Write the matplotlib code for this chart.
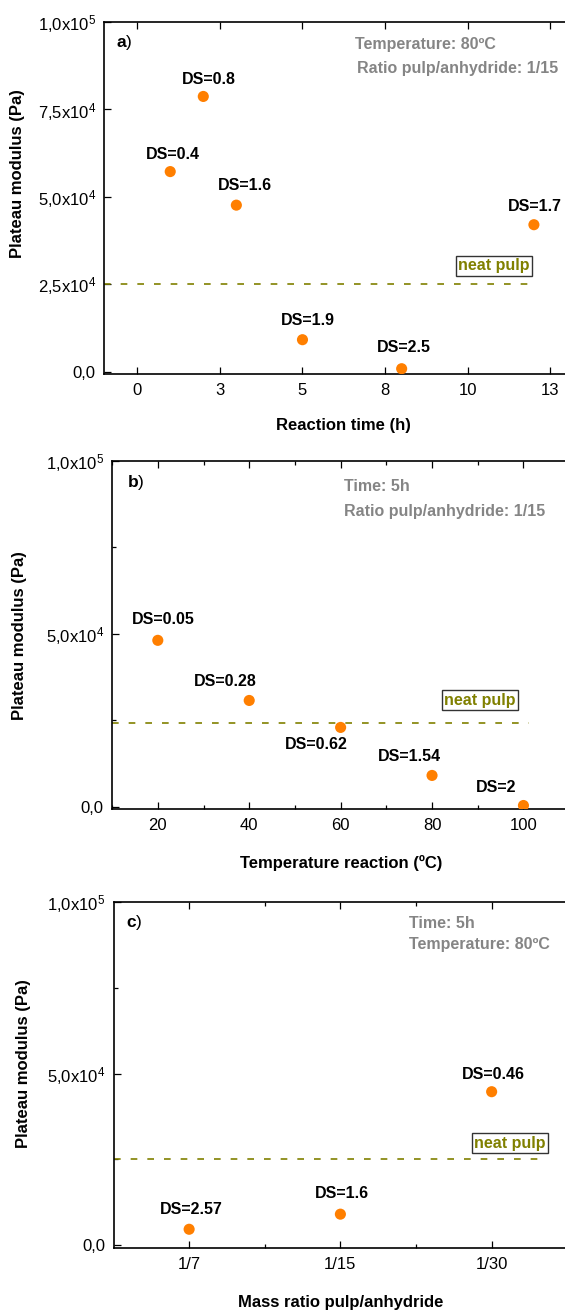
import matplotlib
matplotlib.use("Agg")
import matplotlib.pyplot as plt
from matplotlib.ticker import FixedLocator, FixedFormatter

plt.rcParams['font.family'] = ['Liberation Sans', 'DejaVu Sans']
plt.rcParams['mathtext.fontset'] = 'custom'
plt.rcParams['mathtext.rm'] = 'Liberation Sans'
plt.rcParams['mathtext.it'] = 'Liberation Sans:italic'
plt.rcParams['mathtext.bf'] = 'Liberation Sans:bold'

# ---------------- data ----------------
time_h = [1, 2, 3, 5, 8, 12]
modulus_a = [57200, 78700, 47600, 9100, 800, 42000]
ds_a = ['0.4', '0.8', '1.6', '1.9', '2.5', '1.7']

temp_c = [20, 40, 60, 80, 100]
modulus_b = [48100, 30700, 22900, 9000, 300]
ds_b = ['0.05', '0.28', '0.62', '1.54', '2']

ratio_pos = [1, 2, 3]
ratio_labels = ['1/7', '1/15', '1/30']
modulus_c = [4600, 9000, 44700]
ds_c = ['2.57', '1.6', '0.46']

neat_pulp = [25000, 24200, 25000]

a_xticks = [0, 2.5, 5, 7.5, 10, 12.5]
a_xticklabels = ['0', '3', '5', '8', '10', '13']
a_yticks = [0, 25000, 50000, 75000, 100000]
a_yticklabels = ['0,0', r'2,5x10$^{4}$', r'5,0x10$^{4}$', r'7,5x10$^{4}$', r'1,0x10$^{5}$']
bc_yticks = [0, 50000, 100000]
bc_yticklabels = ['0,0', r'5,0x10$^{4}$', r'1,0x10$^{5}$']
bc_yminor = [25000, 75000]
b_xticks = [20, 40, 60, 80, 100]
b_xminor = [10, 30, 50, 70, 90, 110]
c_xminor = [1.5, 2.5]

cond_a = ['Temperature: 80ºC', 'Ratio pulp/anhydride: 1/15']
cond_b = ['Time: 5h', 'Ratio pulp/anhydride: 1/15']
cond_c = ['Time: 5h', 'Temperature: 80ºC']

# ---------------- style ----------------
W, H = 565, 1313
fig = plt.figure(figsize=(W / 100, H / 100), dpi=100)

ORANGE = '#FF7F00'
OLIVE = '#808000'
GRAY = '#858585'


def make_axes(left, right, top, bottom):
    return fig.add_axes([left / W, (H - bottom) / H, (right - left) / W, (bottom - top) / H])


def style(ax):
    for s in ax.spines.values():
        s.set_linewidth(1.2)
    ax.tick_params(which='both', direction='in', top=True, right=True,
                   labelsize=12, pad=6, width=0.9)
    ax.tick_params(which='major', length=5)
    ax.tick_params(which='minor', length=2.8)


axA = make_axes(104.1, 583.5, 22, 374.3)
axB = make_axes(112.1, 592.0, 461, 809.3)
axC = make_axes(113.5, 582.4, 902, 1248.3)

# ---- panel a ----
ax = axA
style(ax)
ax.set_xlim(-1, 13.5)
ax.set_ylim(-800, 100000)
ax.scatter(time_h, modulus_a, s=64, color=ORANGE, edgecolors='none', zorder=3)
ax.plot([-1, 12.1], [neat_pulp[0]] * 2, color=OLIVE, lw=1.2, ls=(0, (4, 6)), zorder=2)
offs_a = [(2, 12), (4, 12), (6.5, 14.4), (3.6, 13.5), (1.7, 15), (0.4, 13)]
for x, y, d, o in zip(time_h, modulus_a, ds_a, offs_a):
    ax.annotate('DS=' + d, (x, y), xytext=o, textcoords='offset points',
                ha='center', va='center', fontsize=11.5, fontweight='bold')
ax.xaxis.set_major_locator(FixedLocator(a_xticks))
ax.xaxis.set_major_formatter(FixedFormatter(a_xticklabels))
ax.yaxis.set_major_locator(FixedLocator(a_yticks))
ax.yaxis.set_major_formatter(FixedFormatter(a_yticklabels))
ax.text(10.8, 30300, 'neat pulp', ha='center', va='center', color=OLIVE, fontsize=11.5,
        fontweight='bold', bbox=dict(boxstyle='square,pad=0.15', fc='white', ec='#333333', lw=1))
ax.text(0.523, 0.9375, cond_a[0], transform=ax.transAxes, color=GRAY, fontsize=11.5,
        fontweight='bold', va='center', ha='left')
ax.text(0.5285, 0.8666, cond_a[1], transform=ax.transAxes, color=GRAY, fontsize=11.5,
        fontweight='bold', va='center', ha='left')
ax.text(0.0248, 0.943, r'$\mathbf{a}$)', transform=ax.transAxes, fontsize=12.5, va='center', ha='left')
ax.set_xlabel('Reaction time (h)', fontsize=12, fontweight='bold')
ax.xaxis.set_label_coords(0.5, -0.144)
ax.xaxis.label.set_va('center')
ax.set_ylabel('Plateau modulus (Pa)', fontsize=12, fontweight='bold')
ax.yaxis.set_label_coords(-0.181, 0.569)
ax.yaxis.label.set_va('center')

# ---- panel b ----
ax = axB
style(ax)
ax.set_xlim(10, 115)
ax.set_ylim(-800, 100000)
ax.scatter(temp_c, modulus_b, s=64, color=ORANGE, edgecolors='none', zorder=3)
ax.plot([10, 101.2], [neat_pulp[1]] * 2, color=OLIVE, lw=1.2, ls=(0, (4, 6)), zorder=2)
offs_b = [(4.1, 15.1), (-17.1, 13.5), (-17.3, -12.5), (-16.6, 13.5), (-19.4, 13.2)]
for x, y, d, o in zip(temp_c, modulus_b, ds_b, offs_b):
    ax.annotate('DS=' + d, (x, y), xytext=o, textcoords='offset points',
                ha='center', va='center', fontsize=11.5, fontweight='bold')
ax.xaxis.set_major_locator(FixedLocator(b_xticks))
ax.xaxis.set_minor_locator(FixedLocator(b_xminor))
ax.yaxis.set_major_locator(FixedLocator(bc_yticks))
ax.yaxis.set_major_formatter(FixedFormatter(bc_yticklabels))
ax.yaxis.set_minor_locator(FixedLocator(bc_yminor))
ax.text(90.5, 30800, 'neat pulp', ha='center', va='center', color=OLIVE, fontsize=11.5,
        fontweight='bold', bbox=dict(boxstyle='square,pad=0.15', fc='white', ec='#333333', lw=1))
ax.text(0.5074 * 457.2 / 479.9, 0.928, cond_b[0], transform=ax.transAxes, color=GRAY, fontsize=11.5,
        fontweight='bold', va='center', ha='left')
ax.text(0.5074 * 457.2 / 479.9, 0.8536, cond_b[1], transform=ax.transAxes, color=GRAY, fontsize=11.5,
        fontweight='bold', va='center', ha='left')
ax.text(0.0315 * 457.2 / 479.9, 0.937, r'$\mathbf{b}$)', transform=ax.transAxes, fontsize=12.5,
        va='center', ha='left')
ax.set_xlabel('Temperature reaction (ºC)', fontsize=12, fontweight='bold')
ax.xaxis.set_label_coords(0.5 * 457.2 / 479.9, -0.153)
ax.xaxis.label.set_va('center')
ax.set_ylabel('Plateau modulus (Pa)', fontsize=12, fontweight='bold')
ax.yaxis.set_label_coords(-0.202 * 457.2 / 479.9, 0.5)
ax.yaxis.label.set_va('center')

# ---- panel c ----
ax = axC
style(ax)
ax.set_xlim(0.5, 3.6)
ax.set_ylim(-950, 100000)
ax.scatter(ratio_pos, modulus_c, s=64, color=ORANGE, edgecolors='none', zorder=3)
ax.plot([0.5, 3.31], [neat_pulp[2]] * 2, color=OLIVE, lw=1.2, ls=(0, (4, 6)), zorder=2)
offs_c = [(1.8, 13.9), (1.4, 15.1), (1.1, 12.7)]
for x, y, d, o in zip(ratio_pos, modulus_c, ds_c, offs_c):
    ax.annotate('DS=' + d, (x, y), xytext=o, textcoords='offset points',
                ha='center', va='center', fontsize=11.5, fontweight='bold')
ax.xaxis.set_major_locator(FixedLocator(ratio_pos))
ax.xaxis.set_major_formatter(FixedFormatter(ratio_labels))
ax.xaxis.set_minor_locator(FixedLocator(c_xminor))
ax.yaxis.set_major_locator(FixedLocator(bc_yticks))
ax.yaxis.set_major_formatter(FixedFormatter(bc_yticklabels))
ax.yaxis.set_minor_locator(FixedLocator(bc_yminor))
ax.text(3.12, 29650, 'neat pulp', ha='center', va='center', color=OLIVE, fontsize=11.5,
        fontweight='bold', bbox=dict(boxstyle='square,pad=0.15', fc='white', ec='#333333', lw=1))
sc = 453.5 / 468.9
ax.text(0.6516 * sc, 0.9365, cond_c[0], transform=ax.transAxes, color=GRAY, fontsize=11.5,
        fontweight='bold', va='center', ha='left')
ax.text(0.6516 * sc, 0.8759, cond_c[1], transform=ax.transAxes, color=GRAY, fontsize=11.5,
        fontweight='bold', va='center', ha='left')
ax.text(0.0276 * sc, 0.942, r'$\mathbf{c}$)', transform=ax.transAxes, fontsize=12.5, va='center', ha='left')
ax.set_xlabel('Mass ratio pulp/anhydride', fontsize=12, fontweight='bold')
ax.xaxis.set_label_coords(0.5 * sc, -0.157)
ax.xaxis.label.set_va('center')
ax.set_ylabel('Plateau modulus (Pa)', fontsize=12, fontweight='bold')
ax.yaxis.set_label_coords(-0.199 * sc, 0.534)
ax.yaxis.label.set_va('center')

fig.savefig('out.png', dpi=100)
